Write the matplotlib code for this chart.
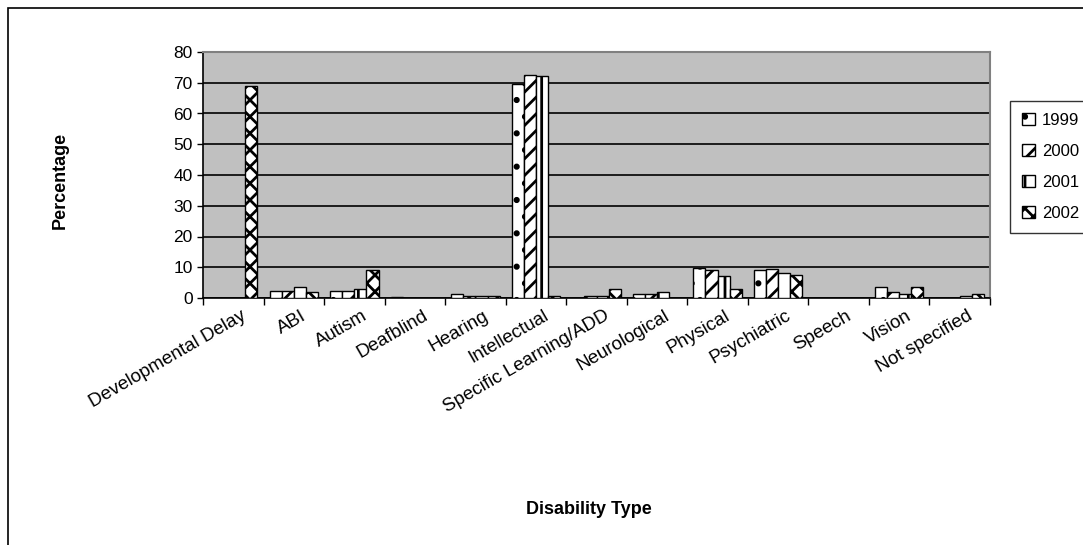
import numpy as np
import matplotlib.pyplot as plt
from matplotlib.patches import Rectangle, Patch

plt.rcParams['font.family'] = ['Liberation Sans', 'DejaVu Sans']
plt.rcParams['hatch.linewidth'] = 2.0

# Disability categories on the x axis
categories = ["Developmental Delay", "ABI", "Autism", "Deafblind", "Hearing",
              "Intellectual", "Specific Learning/ADD", "Neurological", "Physical",
              "Psychiatric", "Speech", "Vision", "Not specified"]

years = ["1999", "2000", "2001", "2002"]

# Percentages (one list per year)
pct_1999 = [0, 2.3, 2.3, 0.4, 1.2, 69.7, 0, 1.2, 9.8, 9.0, 0, 3.5, 0]
pct_2000 = [0, 2.3, 2.3, 0, 0.6, 72.6, 0.7, 1.3, 9.0, 9.5, 0, 1.8, 0]
pct_2001 = [0, 3.5, 3.0, 0, 0.6, 72.1, 0.5, 1.8, 7.3, 8.0, 0, 1.2, 0.7]
pct_2002 = [68.8, 1.8, 9.0, 0, 0.7, 0.5, 3.0, 0, 3.0, 7.5, 0, 3.5, 1.2]

series = [pct_1999, pct_2000, pct_2001, pct_2002]
hatches = ['.', '//', '|', 'xx']

fig = plt.figure(figsize=(10.83, 5.45), dpi=100)
ax = fig.add_axes([203 / 1083, 1 - 298 / 545, (990 - 203) / 1083, (298 - 52) / 545])
ax.set_facecolor('#C0C0C0')

x = np.arange(len(categories))
bw = 0.2
for i, vals in enumerate(series):
    ax.bar(x - 0.3 + i * bw, vals, width=bw, color='white', edgecolor='black',
           hatch=hatches[i], linewidth=1.0, zorder=3)

ax.set_xlim(-0.5, len(categories) - 0.5)
ax.set_ylim(0, 80)
ax.set_yticks(range(0, 81, 10))
ax.yaxis.grid(True, color='black', linewidth=1.2, zorder=1)
ax.set_axisbelow(True)

ax.set_xticks(np.arange(len(categories) + 1) - 0.5)
ax.set_xticklabels([])
ax.tick_params(axis='x', direction='out', length=5, width=1)
ax.tick_params(axis='y', direction='out', length=4, width=1, labelsize=12.5)
for i, c in enumerate(categories):
    ax.text(i + 0.12, -3.0, c, rotation=30, ha='right', va='top',
            rotation_mode='anchor', fontsize=13.5)

for s in ['left', 'bottom']:
    ax.spines[s].set_color('black')
    ax.spines[s].set_linewidth(1.2)
for s in ['top', 'right']:
    ax.spines[s].set_color('#808080')
    ax.spines[s].set_linewidth(1.5)

fig.text(60 / 1083, 1 - 180 / 545, "Percentage", rotation=90, ha='center', va='center',
         fontsize=13, fontweight='bold')
fig.text(589 / 1083, 1 - 510 / 545, "Disability Type", ha='center', va='center',
         fontsize=13, fontweight='bold')

# outer chart border
fig.patches.append(Rectangle((8 / 1083, -0.1), 1.2, 1 - 8 / 545 + 0.1,
                             transform=fig.transFigure, fill=False,
                             edgecolor='black', linewidth=1.2))

handles = [Patch(facecolor='white', edgecolor='black', hatch=h) for h in hatches]
leg = fig.legend(handles, years, loc='upper left',
                 bbox_to_anchor=(1010 / 1083, 1 - 101 / 545), borderaxespad=0,
                 fontsize=12, frameon=True, fancybox=False, edgecolor='black',
                 handlelength=0.8, handleheight=0.8, handletextpad=0.4,
                 labelspacing=0.95, borderpad=0.7)
leg.get_frame().set_linewidth(1.0)

fig.savefig('out.png', dpi=100)
